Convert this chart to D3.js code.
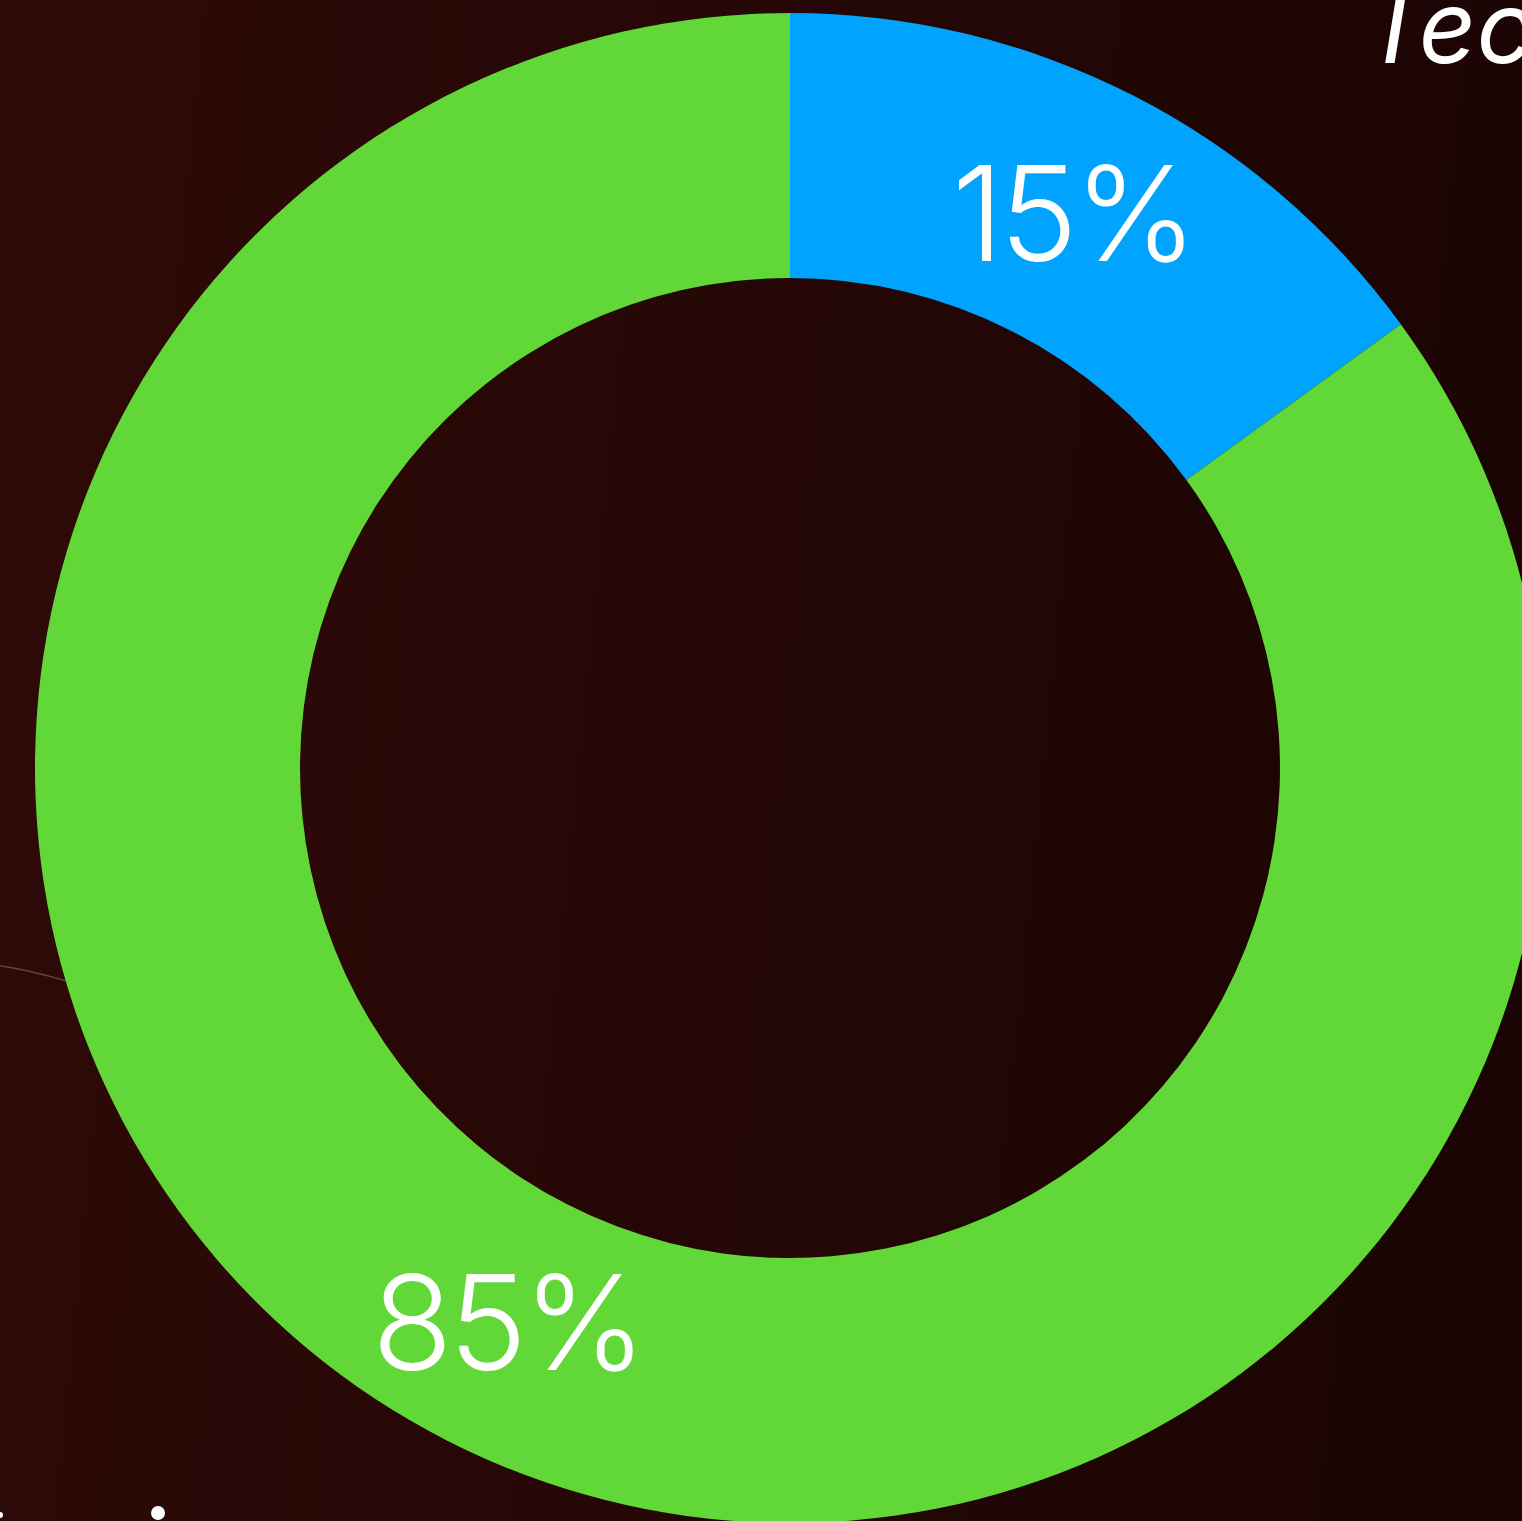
<!DOCTYPE html>
<html>
<head>
<meta charset="utf-8">
<script src="https://cdn.jsdelivr.net/npm/d3@7"></script>
<style>
html,body{margin:0;padding:0;overflow:hidden;background:#240806;}
</style>
</head>
<body>
<script>
// donut data
var labels = ["A", "B"];
var values = [15, 85];
var colors = ["#00a4ff", "#62d838"];
var titleText = "Tec";

var width = 1522, height = 1521;
var cx = 790, cy = 768;
var outerR = 755, innerR = 490;

var svg = d3.select("body").append("svg").attr("width", width).attr("height", height);

var defs = svg.append("defs");
var grad = defs.append("linearGradient").attr("id", "bg").attr("x1", "0").attr("y1", "0").attr("x2", "1").attr("y2", "0.1");
grad.append("stop").attr("offset", "0").attr("stop-color", "#2f0a08");
grad.append("stop").attr("offset", "1").attr("stop-color", "#1b0504");
svg.append("rect").attr("width", width).attr("height", height).attr("fill", "url(#bg)");

// faint decorative line behind the ring
svg.append("path")
  .attr("d", "M-5,965 Q30,970 70,982")
  .attr("fill", "none").attr("stroke", "#8a6a6a").attr("stroke-opacity", 0.6).attr("stroke-width", 1.5);

var pie = d3.pie().sort(null).value(function (d) { return d; });
var arc = d3.arc().innerRadius(innerR).outerRadius(outerR);
var arcs = pie(values);

var g = svg.append("g").attr("transform", "translate(" + cx + "," + cy + ")");
g.selectAll("path.slice")
  .data(arcs)
  .enter().append("path")
  .attr("class", "slice")
  .attr("d", arc)
  .attr("fill", function (d, i) { return colors[i]; });

g.selectAll("text.lbl")
  .data(arcs)
  .enter().append("text")
  .attr("class", "lbl")
  .attr("x", function (d) { return arc.centroid(d)[0]; })
  .attr("y", function (d) { return arc.centroid(d)[1]; })
  .attr("dy", "0.36em")
  .attr("text-anchor", "middle")
  .attr("fill", "#ffffff")
  .style("font-family", "Inter, 'Noto Sans', sans-serif")
  .style("font-weight", 300)
  .style("font-size", "132px")
  .style("letter-spacing", "-4px")
  .text(function (d) { return d.data + "%"; });

// title, cut by the top-right edge
svg.append("text")
  .attr("x", 1362).attr("y", 63)
  .attr("fill", "#ffffff")
  .style("font-family", "Inter, 'Noto Sans', sans-serif")
  .style("font-style", "italic")
  .style("font-size", "100px")
  .text(titleText);

// bits of text below the bottom edge
svg.append("circle").attr("cx", 158).attr("cy", 1513).attr("r", 7).attr("fill", "#fff");
svg.append("circle").attr("cx", 0).attr("cy", 1515).attr("r", 3).attr("fill", "#fff");
</script>
</body>
</html>
